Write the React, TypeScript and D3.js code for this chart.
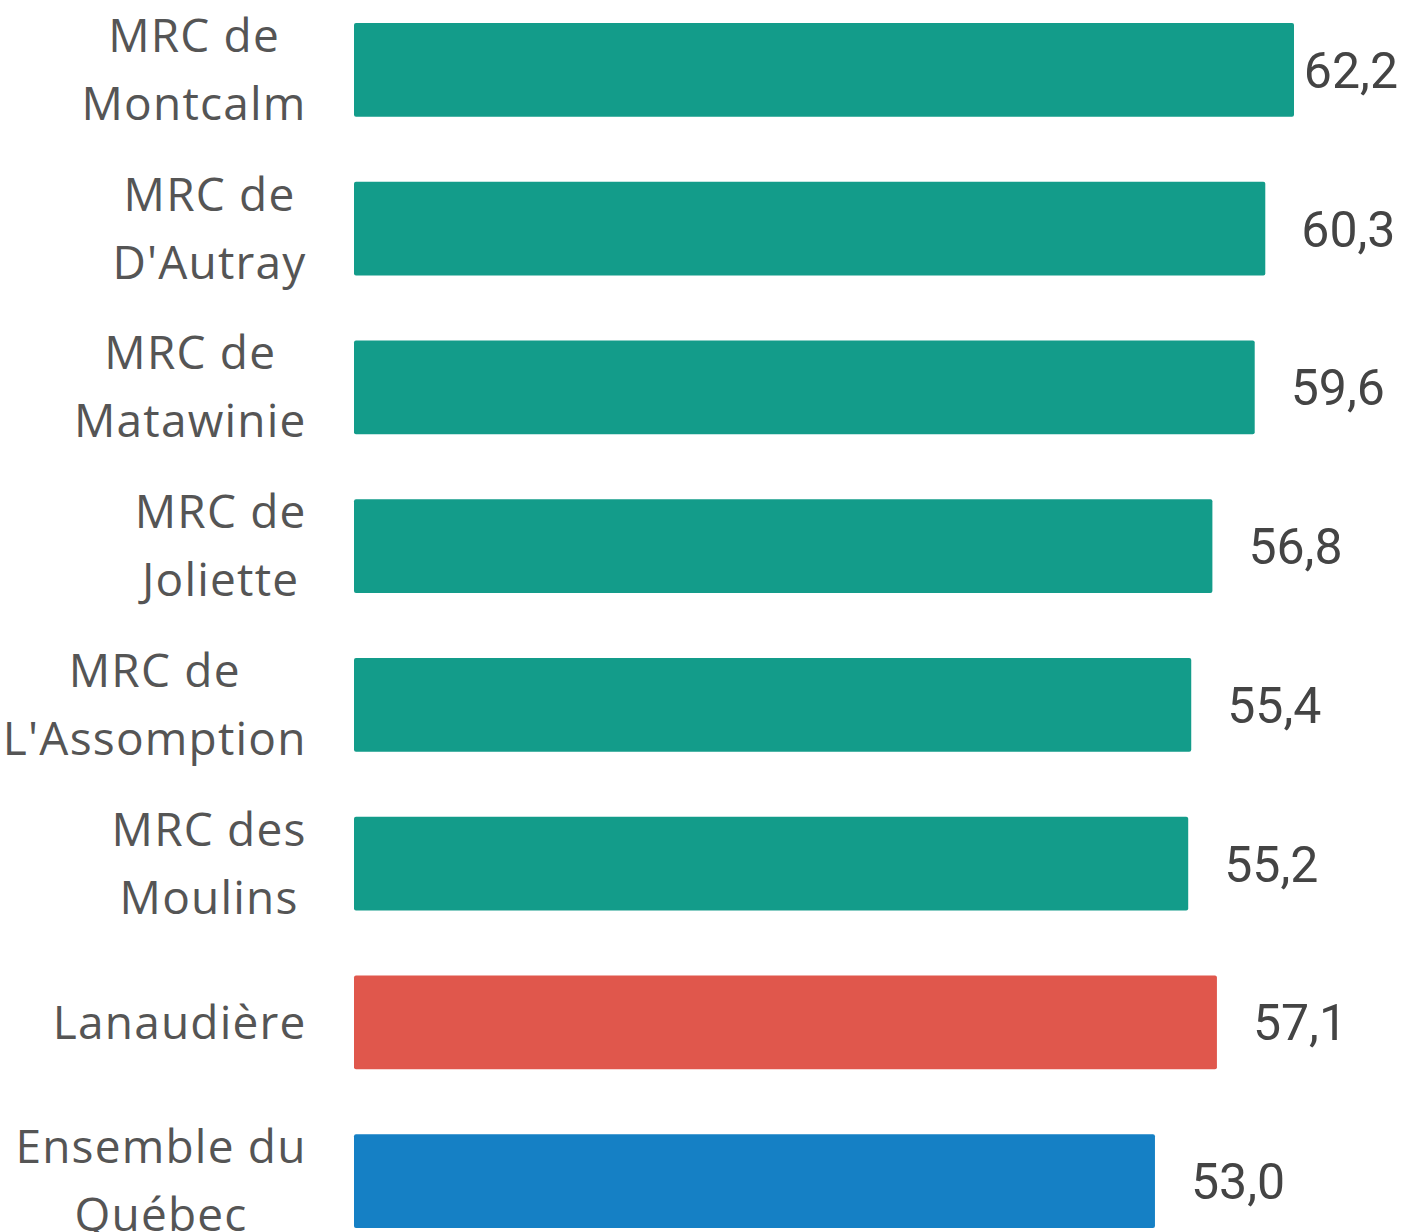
import { useMemo } from "react";
import * as d3 from "d3";

const categories = [
  "MRC de Montcalm",
  "MRC de D'Autray",
  "MRC de Matawinie",
  "MRC de Joliette",
  "MRC de L'Assomption",
  "MRC des Moulins",
  "Lanaudière",
  "Ensemble du Québec",
];
const labelLines = [
  ["MRC de", "Montcalm"],
  ["MRC de", "D'Autray"],
  ["MRC de", "Matawinie"],
  ["MRC de", "Joliette"],
  ["MRC de", "L'Assomption"],
  ["MRC des", "Moulins"],
  ["Lanaudière"],
  ["Ensemble du", "Québec"],
];
const values = [62.2, 60.3, 59.6, 56.8, 55.4, 55.2, 57.1, 53.0];
const barColors = [
  "#139c8a", "#139c8a", "#139c8a", "#139c8a", "#139c8a", "#139c8a",
  "#e0574c", "#1580c5",
];

const labelFont = "'Open Sans', sans-serif";
const valueFont = "Roboto, sans-serif";

function App() {
  const width = 1401;
  const height = 1232;
  const labelRight = 306;
  const labelSize = 46;
  const labelSpacing = 1.2;
  const valueSize = 50;
  const lineGap = 68;

  const x = d3.scaleLinear().domain([0, d3.max(values) as number]).range([354, 1294]);
  const y = d3.scaleBand().domain(categories).range([23, 1228]).paddingInner(0.41).paddingOuter(0);

  const measure = useMemo(() => {
    const ctx = document.createElement("canvas").getContext("2d")!;
    return (t: string, font: string, ls = 0) => {
      ctx.font = font;
      return ctx.measureText(t).width + ls * (t.length - 1);
    };
  }, []);

  const fmt = (v: number) => v.toFixed(1).replace(".", ",");

  return (
    <svg
      width={width}
      height={height}
      style={{ position: "absolute", top: 0, left: 0, background: "#fff" }}
    >
      {categories.map((c, i) => {
        const y0 = y(c) as number;
        const cy = y0 + y.bandwidth() / 2;
        const lines = labelLines[i];
        const maxW = d3.max(lines, (l) =>
          measure(l, `${labelSize}px ${labelFont}`, labelSpacing)
        ) as number;
        const cx = labelRight - maxW / 2;
        const vText = fmt(values[i]);
        const vW = measure(vText, `${valueSize}px ${valueFont}`);
        const vx = Math.min(x(values[i]) + 36, 1398 - vW);
        return (
          <g key={c}>
            <rect
              x={x(0)}
              y={y0}
              width={x(values[i]) - x(0)}
              height={y.bandwidth()}
              rx={2}
              fill={barColors[i]}
            />
            <text
              fontFamily={labelFont}
              fontSize={labelSize}
              letterSpacing={labelSpacing}
              fill="#555"
              textAnchor="middle"
            >
              {lines.map((l, j) => (
                <tspan
                  key={j}
                  x={cx}
                  y={cy + (j - (lines.length - 1) / 2) * lineGap}
                  dy="0.35em"
                >
                  {l}
                </tspan>
              ))}
            </text>
            <text
              x={vx}
              y={cy}
              dy="0.36em"
              fontFamily={valueFont}
              fontSize={valueSize}
              fill="#444"
            >
              {vText}
            </text>
          </g>
        );
      })}
    </svg>
  );
}

export default App;
